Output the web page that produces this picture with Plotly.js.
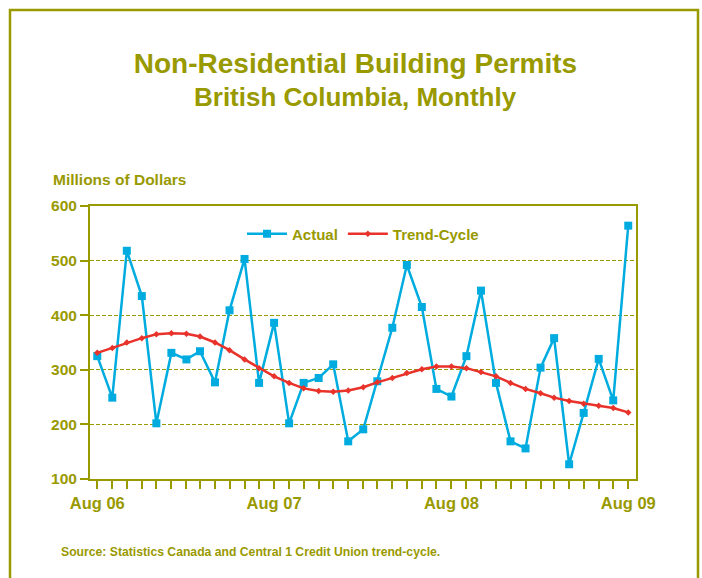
<!DOCTYPE html>
<html>
<head>
<meta charset="utf-8">
<script src="https://cdn.plot.ly/plotly-3.0.1.min.js"></script>
<style>
  html, body { margin: 0; padding: 0; background: #ffffff; }
  #chart { width: 702px; height: 578px; }
</style>
</head>
<body>
<div id="chart"></div>
<script>
// Monthly periods, Aug 2006 - Aug 2009
const months = [
  "2006-08-01","2006-09-01","2006-10-01","2006-11-01","2006-12-01",
  "2007-01-01","2007-02-01","2007-03-01","2007-04-01","2007-05-01","2007-06-01","2007-07-01",
  "2007-08-01","2007-09-01","2007-10-01","2007-11-01","2007-12-01",
  "2008-01-01","2008-02-01","2008-03-01","2008-04-01","2008-05-01","2008-06-01","2008-07-01",
  "2008-08-01","2008-09-01","2008-10-01","2008-11-01","2008-12-01",
  "2009-01-01","2009-02-01","2009-03-01","2009-04-01","2009-05-01","2009-06-01","2009-07-01",
  "2009-08-01"
];
// Millions of dollars
const actual = [
  325, 249, 518, 435, 202, 331, 319, 334, 277, 409, 503, 276,
  386, 202, 276, 285, 310, 169, 191, 279, 377, 492, 415, 265,
  251, 325, 445, 276, 169, 156, 304, 358, 127, 221, 320, 244,
  564
];
const trend = [
  331, 340, 350, 358, 365, 367, 366, 361, 350, 336, 319, 303,
  288, 276, 266, 261, 260, 262, 268, 277, 285, 294, 301, 306,
  306, 303, 296, 288, 276, 265, 257, 249, 243, 238, 234, 230,
  222
];
const tickDates = ["2006-08-01","2007-08-01","2008-08-01","2009-08-01"];
const tickLabels = ["Aug 06","Aug 07","Aug 08","Aug 09"];

const OLIVE = "#999900";
const BLUE = "#00acdf";
const RED = "#e8322a";
const FONT = "Liberation Sans, Arial, sans-serif";

const traces = [
  {
    x: months, y: actual, name: "Actual", type: "scatter", mode: "lines+markers",
    line: { color: BLUE, width: 2.5 },
    marker: { symbol: "square", size: 8, color: BLUE }
  },
  {
    x: months, y: trend, name: "Trend-Cycle", type: "scatter", mode: "lines+markers",
    line: { color: RED, width: 2.5 },
    marker: { symbol: "diamond", size: 5, color: RED }
  }
];

const L = 90, R = 66, T = 206, B = 99, W = 702, H = 578;
const pw = W - L - R, ph = H - T - B;
function px(x) { return (x - L) / pw; }
function py(y) { return (H - B - y) / ph; }

const layout = {
  width: W, height: H,
  margin: { l: L, r: R, t: T, b: B },
  paper_bgcolor: "#ffffff",
  plot_bgcolor: "#ffffff",
  font: { family: FONT, color: OLIVE },
  showlegend: true,
  legend: {
    orientation: "h", x: px(363), xanchor: "center", y: py(234), yanchor: "middle",
    font: { family: FONT, size: 15, color: OLIVE, weight: "bold" },
    bgcolor: "rgba(0,0,0,0)", itemwidth: 40
  },
  title: {
    text: "<b>Non-Residential Building Permits</b>",
    font: { family: FONT, size: 28, color: OLIVE },
    x: px(355.5), xref: "paper", xanchor: "center",
    y: 1 - 63 / H, yref: "container", yanchor: "middle"
  },
  xaxis: {
    type: "date",
    range: ["2006-07-17", "2009-08-17"],
    tickvals: tickDates, ticktext: tickLabels,
    ticks: "outside", ticklen: 8, tickwidth: 2, tickcolor: OLIVE,
    minor: { dtick: "M1", tick0: "2006-08-01", ticks: "outside", ticklen: 8, tickwidth: 2, tickcolor: OLIVE, showgrid: false },
    tickfont: { family: FONT, size: 16.5, color: OLIVE, weight: "bold" },
    showline: true, linecolor: OLIVE, linewidth: 2, mirror: true,
    showgrid: false, zeroline: false, fixedrange: true
  },
  yaxis: {
    range: [100, 600], dtick: 100, tick0: 100,
    ticks: "outside", ticklen: 8, tickwidth: 2, tickcolor: OLIVE,
    tickfont: { family: FONT, size: 15.5, color: OLIVE, weight: "bold" },
    showline: true, linecolor: OLIVE, linewidth: 2, mirror: true,
    showgrid: true, gridcolor: OLIVE, griddash: "4px,2px", gridwidth: 1,
    zeroline: false, fixedrange: true
  },
  annotations: [
    {
      text: "<b>British Columbia, Monthly</b>", xref: "paper", yref: "paper",
      x: px(355), y: py(97), xanchor: "center", yanchor: "middle", showarrow: false,
      font: { family: FONT, size: 26, color: OLIVE }
    },
    {
      text: "<b>Millions of Dollars</b>", xref: "paper", yref: "paper",
      x: px(51), y: py(180), xanchor: "left", yanchor: "middle", showarrow: false,
      font: { family: FONT, size: 15.5, color: OLIVE }
    },
    {
      text: "<b>Source: Statistics Canada and Central 1 Credit Union trend-cycle.</b>", xref: "paper", yref: "paper",
      x: px(59), y: py(552), xanchor: "left", yanchor: "middle", showarrow: false,
      font: { family: FONT, size: 12.2, color: OLIVE }
    }
  ],
  shapes: [
    {
      type: "rect", xref: "paper", yref: "paper",
      x0: px(10), x1: px(698), y0: py(600), y1: py(10),
      line: { color: OLIVE, width: 2.5 }, fillcolor: "rgba(0,0,0,0)", layer: "below"
    }
  ]
};

Plotly.newPlot("chart", traces, layout, { displayModeBar: false, staticPlot: true });
</script>
</body>
</html>
